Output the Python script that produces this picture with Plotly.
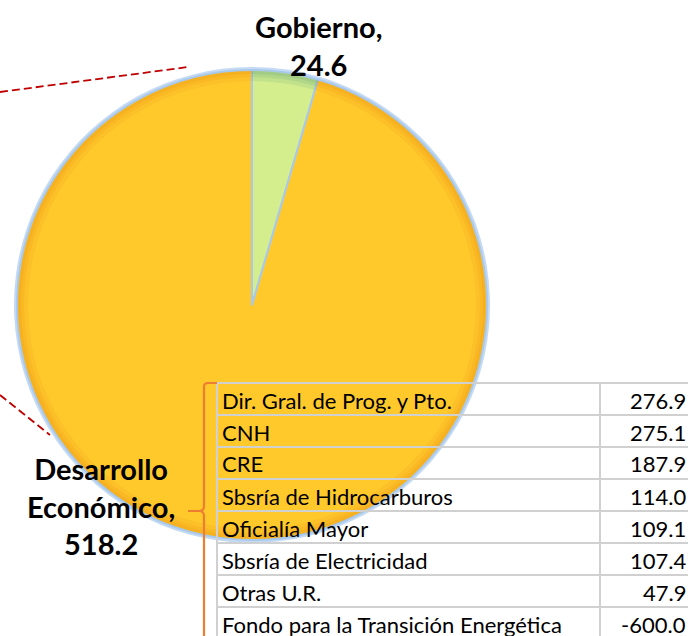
import plotly.graph_objects as go

W, H = 688, 636

# Pie slices
sectors = ["Gobierno", "Desarrollo Económico"]
sector_values = [24.6, 518.2]
sector_colors = ["#D4EE8E", "#FFC92C"]
rim_colors = ["rgba(80,150,120,0.14)", "rgba(232,128,18,0.13)"]

# Breakdown table rows
units = [
    "Dir. Gral. de Prog. y Pto.",
    "CNH",
    "CRE",
    "Sbsría de Hidrocarburos",
    "Oficialía Mayor",
    "Sbsría de Electricidad",
    "Otras U.R.",
    "Fondo para la Transición Energética",
]
unit_values = [276.9, 275.1, 187.9, 114.0, 109.1, 107.4, 47.9, -600.0]


def px_x(x):
    return x / W


def px_y(y):
    return 1 - y / H


def pie_domain(radius):
    return dict(x=[px_x(cx - radius), px_x(cx + radius)],
                y=[px_y(cy + radius), px_y(cy - radius)])


# pie geometry in pixels
cx, cy, r = 252, 305, 235

common = dict(labels=sectors, values=sector_values, sort=False, direction="clockwise",
              rotation=0, textinfo="none", showlegend=False)

fig = go.Figure()
# soft blue halo around the pie
fig.add_trace(go.Pie(**common, hoverinfo="skip", domain=pie_domain(r + 3),
                     marker=dict(colors=["#C4DAF3", "#C4DAF3"], line=dict(width=0))))
# main pie
fig.add_trace(go.Pie(**common, hoverinfo="label+value", domain=pie_domain(r),
                     marker=dict(colors=sector_colors, line=dict(color="#A8C8EC", width=2))))
# gentle shading towards the rim
for thick in (10, 6, 3):
    fig.add_trace(go.Pie(**common, hoverinfo="skip", domain=pie_domain(r - 1),
                         hole=(r - 1 - thick) / (r - 1),
                         marker=dict(colors=rim_colors, line=dict(width=0))))

shapes = []
annotations = []

# dashed leader lines
for (x0, y0, x1, y1) in [(0, 92, 188, 67), (0, 395, 50, 435)]:
    shapes.append(dict(type="line", xref="paper", yref="paper",
                       x0=px_x(x0), y0=px_y(y0), x1=px_x(x1), y1=px_y(y1),
                       line=dict(color="#C00000", width=1.8, dash="8px,4px")))

# slice labels
label_font = dict(family="Lato", size=29, color="#000000")
annotations.append(dict(
    text=f"<b>{sectors[0]},</b><br><b>{sector_values[0]:.1f}</b>",
    x=px_x(318), y=px_y(46), xref="paper", yref="paper",
    showarrow=False, font=label_font, align="center", xanchor="center", yanchor="middle"))
annotations.append(dict(
    text="<b>Desarrollo</b><br><b>Económico,</b><br><b>%.1f</b>" % sector_values[1],
    x=px_x(101), y=px_y(506), xref="paper", yref="paper",
    showarrow=False, font=label_font, align="center", xanchor="center", yanchor="middle"))

# table grid and text
top, row_h = 383, 32
x_left, x_mid, x_right = 217, 600, 700
grid = dict(color="#D0D0D0", width=2)
for i in range(len(units) + 1):
    y = top + i * row_h
    shapes.append(dict(type="line", xref="paper", yref="paper",
                       x0=px_x(x_left), x1=px_x(x_right), y0=px_y(y), y1=px_y(y), line=grid))
for x in (x_left, x_mid):
    shapes.append(dict(type="line", xref="paper", yref="paper",
                       x0=px_x(x), x1=px_x(x), y0=px_y(top), y1=px_y(H + 20), line=grid))

cell_font = dict(family="Lato", size=22, color="#000000")
for i, (name, val) in enumerate(zip(units, unit_values)):
    yc = top + i * row_h + row_h / 2 + 1
    annotations.append(dict(text=name, x=px_x(220), y=px_y(yc), xref="paper", yref="paper",
                            showarrow=False, font=cell_font, xanchor="left", yanchor="middle"))
    annotations.append(dict(text=f"{val:.1f}", x=px_x(688), y=px_y(yc), xref="paper", yref="paper",
                            showarrow=False, font=cell_font, xanchor="right", yanchor="middle"))

# orange brace on the left of the table
bx, btop, bmid = 204, 383, 511
path = (f"M {px_x(217)} {px_y(btop)} L {px_x(bx + 4)} {px_y(btop)} "
        f"Q {px_x(bx)} {px_y(btop)} {px_x(bx)} {px_y(btop + 4)} "
        f"L {px_x(bx)} {px_y(bmid - 5)} Q {px_x(bx)} {px_y(bmid)} {px_x(bx - 5)} {px_y(bmid)} "
        f"L {px_x(188)} {px_y(bmid)} M {px_x(bx - 5)} {px_y(bmid)} "
        f"Q {px_x(bx)} {px_y(bmid)} {px_x(bx)} {px_y(bmid + 5)} L {px_x(bx)} {px_y(H + 20)}")
shapes.append(dict(type="path", xref="paper", yref="paper", path=path,
                   line=dict(color="#ED7D31", width=2.2)))

fig.update_layout(
    width=W, height=H,
    margin=dict(l=0, r=0, t=0, b=0),
    paper_bgcolor="#FFFFFF",
    plot_bgcolor="#FFFFFF",
    shapes=shapes,
    annotations=annotations,
)

fig.write_html("out.html")
